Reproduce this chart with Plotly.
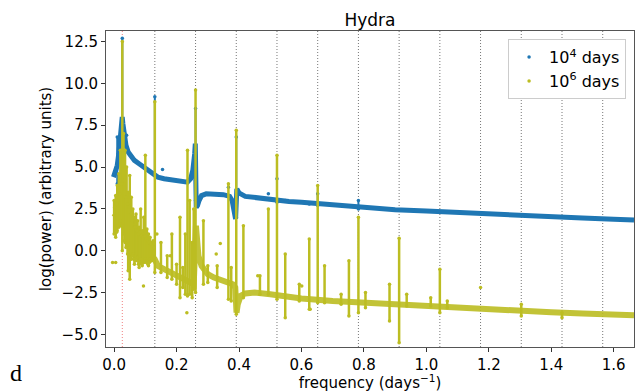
import plotly.graph_objects as go

# ---------------- data ----------------
BLUE = "#1f77b4"
YEL = "#bcbd22"

# harmonic frequencies (vertical dotted guide lines)
orbit_freq = 0.0262
harmonics = [0.1304, 0.2608, 0.3912, 0.5216, 0.6520, 0.7824, 0.9128,
             1.0432, 1.1736, 1.3040, 1.4344, 1.5648]

# 10^4 days series: continuum
b_freq = [-0.002, 0.005, 0.010, 0.015, 0.020, 0.024, 0.026, 0.028, 0.032, 0.038,
          0.045, 0.055, 0.065, 0.080, 0.095, 0.110, 0.120, 0.128, 0.133, 0.140,
          0.160, 0.190, 0.220, 0.235, 0.245, 0.252, 0.258, 0.260, 0.263, 0.267,
          0.272, 0.280, 0.295, 0.320, 0.350, 0.370, 0.378, 0.384, 0.389, 0.393,
          0.400, 0.420, 0.460, 0.500, 0.520, 0.560, 0.600, 0.700, 0.800, 0.900,
          1.000, 1.100, 1.200, 1.300, 1.400, 1.500, 1.600, 1.665]
b_val = [4.4, 4.7, 5.1, 5.8, 6.6, 7.6, 8.0, 7.6, 6.9, 6.3,
         5.9, 5.6, 5.4, 5.2, 5.0, 4.8, 4.7, 4.6, 4.45, 4.4,
         4.3, 4.2, 4.1, 4.1, 4.3, 4.8, 5.8, 6.4, 2.6, 2.7,
         3.0, 3.3, 3.4, 3.4, 3.35, 3.25, 3.0, 2.4, 1.9, 3.7,
         3.45, 3.25, 3.15, 3.05, 3.0, 2.95, 2.9, 2.75, 2.6, 2.45,
         2.38, 2.28, 2.2, 2.12, 2.03, 1.95, 1.88, 1.84]

# 10^4 days series: spikes (freq, low, high)
b_spk_f = [0.0262, 0.1304, 0.2608, 0.3912, 0.5216, 0.6520, 0.7824, 0.0100]
b_spk_lo = [4.0, 4.5, 3.0, 2.0, 2.9, 2.7, 2.5, 4.0]
b_spk_hi = [12.7, 9.2, 8.5, 6.8, 4.3, 3.4, 3.0, 6.8]
# isolated points
b_dot_f = [0.155, 0.366, 0.494, 0.625, 0.548, 0.040]
b_dot_v = [4.85, 3.8, 3.4, 2.8, 3.0, 6.9]

# 10^6 days series: continuum
y_freq = [0.000, 0.010, 0.020, 0.030, 0.040, 0.050, 0.060, 0.070, 0.080, 0.090,
          0.100, 0.110, 0.120, 0.130, 0.140, 0.160, 0.180, 0.200, 0.220, 0.240,
          0.255, 0.262, 0.265, 0.270, 0.280, 0.300, 0.320, 0.350, 0.380, 0.388,
          0.392, 0.396, 0.405, 0.420, 0.450, 0.500, 0.520, 0.550, 0.600, 0.700,
          0.800, 0.900, 1.000, 1.100, 1.200, 1.300, 1.400, 1.500, 1.600, 1.665]
y_val = [2.0, 2.2, 2.5, 2.4, 1.8, 1.0, 0.8, 0.5, 0.3, 0.1,
         0.0, -0.2, -0.3, -0.5, -0.9, -1.1, -1.3, -1.5, -1.7, -1.9,
         -2.0, 1.5, 0.5, -0.3, -0.9, -1.4, -1.6, -1.8, -2.0, -2.2,
         -3.7, -3.2, -2.7, -2.55, -2.5, -2.6, -2.65, -2.75, -2.85, -3.0,
         -3.1, -3.25, -3.33, -3.42, -3.5, -3.6, -3.68, -3.75, -3.82, -3.86]

# 10^6 days series: spikes / dense columns (freq, low, high)
y_spk_f = [0.0262, 0.1304, 0.2608, 0.3912, 0.5216, 0.6520, 0.7824, 0.9128,
           1.0432, 1.3040, 1.4344,
           0.000, 0.005, 0.010, 0.015, 0.020, 0.030, 0.035, 0.040, 0.045,
           0.050, 0.055, 0.060, 0.065, 0.070, 0.075, 0.080, 0.085, 0.090,
           0.095, 0.100, 0.105, 0.110, 0.115, 0.120, 0.125,
           0.150, 0.170, 0.185, 0.200, 0.211, 0.220, 0.228, 0.235, 0.242,
           0.250, 0.255, 0.286, 0.300, 0.330, 0.366, 0.375, 0.414, 0.467,
           0.494, 0.548, 0.593, 0.625, 0.674, 0.727, 0.752, 0.805, 0.882,
           0.937, 1.014, 1.067,
           0.002, 0.008, 0.013, 0.018, 0.023, 0.033, 0.038, 0.043, 0.048,
           0.053, 0.058, 0.063, 0.068, 0.073, 0.078, 0.083, 0.088, 0.093,
           0.098, 0.103, 0.108, 0.113, 0.118, 0.123, 0.128]
y_spk_lo = [0.0, -1.3, -2.5, -3.8, -2.9, -3.1, -3.7, -5.5,
            -3.7, -3.9, -4.0,
            1.0, 0.8, 1.2, 1.4, 1.8, 1.0, 0.5, 0.3, -1.2,
            -1.7, -0.5, -0.2, -0.8, -0.3, -0.6, -1.0, -0.5, -0.9,
            -0.7, -0.5, -0.6, -0.9, -0.5, -0.6, -0.3,
            -1.3, -1.6, -1.7, -2.0, -2.8, -2.2, -2.6, -2.7, -2.6,
            -2.8, -2.3, -2.0, -1.9, -2.2, -2.9, -3.0, -2.8, -2.6,
            -2.6, -4.0, -3.0, -3.5, -3.1, -3.2, -3.9, -3.4, -4.2,
            -3.3, -3.3, -3.4,
            1.3, 1.1, 1.5, 1.6, 1.5, 0.6, 0.2, -0.2, -0.8,
            -0.4, -0.3, -0.5, -0.6, -0.4, -0.8, -0.7, -0.8, -0.6,
            -0.6, -0.7, -0.8, -0.7, -0.6, -0.5, -0.4]
y_spk_hi = [12.5, 8.9, 9.6, 7.2, 5.7, 3.9, 2.0, 0.74,
            -1.1, -3.2, -3.7,
            3.0, 3.3, 3.9, 4.6, 6.0, 7.0, 6.0, 5.0, 3.5,
            4.5, 3.2, 2.5, 2.0, 2.2, 1.8, 1.4, 2.5, 1.2,
            2.0, 5.7, 1.3, 1.0, 0.8, 0.5, 0.6,
            0.5, -0.3, 1.0, -0.8, 2.0, -1.0, 1.0, 6.0, 3.0,
            0.5, 2.5, 1.8, -0.9, -0.9, 4.0, -1.0, 1.5, -1.5,
            2.5, -0.2, -2.0, 0.7, -0.9, -2.6, -0.6, -2.5, -2.0,
            -2.6, -2.8, -3.0,
            2.6, 2.8, 3.0, 3.4, 4.0, 4.2, 3.2, 2.8, 2.6,
            2.2, 1.8, 1.5, 1.4, 1.2, 1.0, 1.1, 0.9, 0.8,
            0.9, 0.7, 0.6, 0.5, 0.4, 0.3, 0.2]
# isolated points
y_dot_f = [-0.005, 0.094, 0.233, 0.340, 0.601, 0.628, 1.1736, 0.137, 0.067,
           0.460, 0.327, 0.180, 0.005]
y_dot_v = [-0.7, -2.1, -3.7, 0.44, -2.1, -3.5, -2.2, 1.0, 1.4,
           -1.5, -0.2, -0.3, -0.7]

x_ticks = [0.0, 0.2, 0.4, 0.6, 0.8, 1.0, 1.2, 1.4, 1.6]
y_ticks = [-5.0, -2.5, 0.0, 2.5, 5.0, 7.5, 10.0, 12.5]


def segs(fs, los, his):
    xs, ys = [], []
    for f, lo, hi in zip(fs, los, his):
        xs += [f, f, None]
        ys += [lo, hi, None]
    return xs, ys


fig = go.Figure()

# guide lines
for h in harmonics:
    fig.add_shape(type="line", xref="x", yref="paper", x0=h, x1=h, y0=0, y1=1,
                  line=dict(color="#777777", width=1, dash="1px,2px"), layer="below")
fig.add_shape(type="line", xref="x", yref="paper", x0=orbit_freq, x1=orbit_freq,
              y0=0, y1=1, line=dict(color="#f08080", width=1, dash="1px,2px"), layer="below")

# blue series
fig.add_trace(go.Scatter(x=b_freq, y=b_val, mode="lines", line=dict(color=BLUE, width=5),
                         showlegend=False, hoverinfo="skip"))
bx, by = segs(b_spk_f, b_spk_lo, b_spk_hi)
fig.add_trace(go.Scatter(x=bx, y=by, mode="lines+markers", line=dict(color=BLUE, width=2),
                         marker=dict(size=3.5, color=BLUE), showlegend=False, hoverinfo="skip"))
fig.add_trace(go.Scatter(x=b_dot_f, y=b_dot_v, mode="markers", name="10<sup>4</sup> days",
                         marker=dict(size=3.5, color=BLUE)))

# yellow series
fig.add_trace(go.Scatter(x=y_freq, y=y_val, mode="lines", line=dict(color=YEL, width=6),
                         opacity=0.9, showlegend=False, hoverinfo="skip"))
yx, yy = segs(y_spk_f, y_spk_lo, y_spk_hi)
fig.add_trace(go.Scatter(x=yx, y=yy, mode="lines+markers", line=dict(color=YEL, width=2.5),
                         marker=dict(size=3.5, color=YEL), showlegend=False, hoverinfo="skip"))
fig.add_trace(go.Scatter(x=y_dot_f, y=y_dot_v, mode="markers", name="10<sup>6</sup> days",
                         marker=dict(size=3.5, color=YEL)))

axis_common = dict(showgrid=False, zeroline=False, showline=True, mirror=True,
                   linecolor="#555555", linewidth=1, ticks="outside", ticklen=4,
                   tickcolor="#333333", tickfont=dict(size=15, color="black"))

fig.update_layout(
    width=635, height=392,
    margin=dict(l=106, r=1, t=31, b=45),
    plot_bgcolor="white", paper_bgcolor="white",
    font=dict(family="DejaVu Sans", color="black"),
    title=dict(text="Hydra", x=0.5, xref="paper", xanchor="center",
               y=1 - 20 / 392, yanchor="middle", font=dict(size=17)),
    xaxis=dict(range=[-0.026, 1.665], tickvals=x_ticks, tickformat=".1f",
               title=dict(text="frequency (days<sup>−1</sup>)", font=dict(size=15), standoff=4),
               **axis_common),
    yaxis=dict(range=[-5.75, 13.13], tickvals=y_ticks, tickformat=".1f",
               title=dict(text="log(power) (arbitrary units)", font=dict(size=15), standoff=6),
               **axis_common),
    legend=dict(x=0.985, y=0.974, xanchor="right", yanchor="top",
                bgcolor="white", bordercolor="#cccccc", borderwidth=1,
                font=dict(size=16), itemwidth=30),
    annotations=[dict(text="d", xref="paper", yref="paper", x=-0.185, y=-0.13,
                      xanchor="left", yanchor="bottom", showarrow=False,
                      font=dict(family="Liberation Serif", size=24, color="black"))],
)

fig.write_html("out.html", config={"displayModeBar": False},
               post_script="document.body.style.margin='0';document.body.style.overflow='hidden';")
